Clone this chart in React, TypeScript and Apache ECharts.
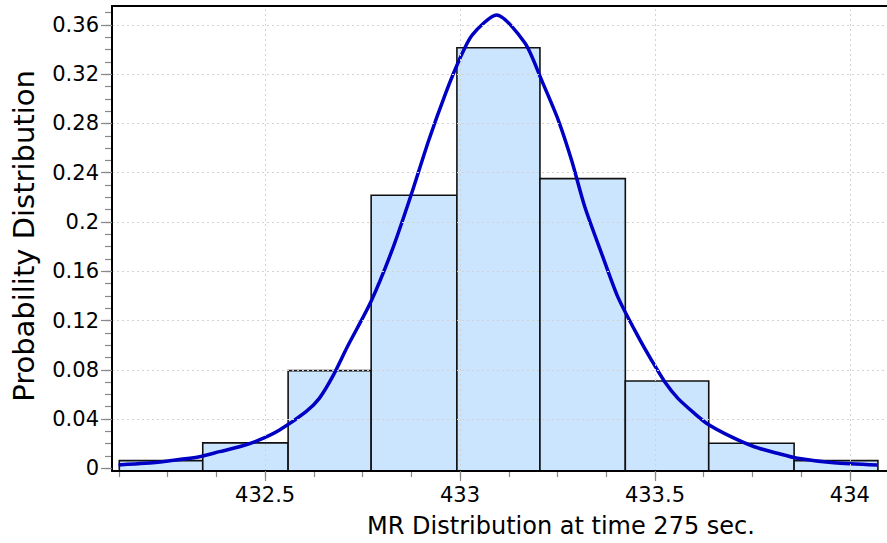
import React, { useEffect, useRef } from "react";
import * as echarts from "echarts";

// ---- data ----
const binEdges = [432.126, 432.34, 432.559, 432.772, 432.992, 433.205, 433.424, 433.638, 433.857, 434.072];
const binHeights = [0.0062, 0.0206, 0.0793, 0.2217, 0.3415, 0.2352, 0.0709, 0.0203, 0.0062];

const curveX = [
  432.124, 432.192, 432.256, 432.332, 432.383, 432.434, 432.485, 432.537, 432.605, 432.639,
  432.673, 432.711, 432.771, 432.826, 432.873, 432.92, 432.963, 432.998, 433.031, 433.094,
  433.167, 433.209, 433.252, 433.286, 433.32, 433.363, 433.405, 433.457, 433.491, 433.525,
  433.559, 433.601, 433.635, 433.695, 433.755, 433.814, 433.866, 433.959, 434.07,
];
const curveY = [
  0.0027, 0.004, 0.0062, 0.0094, 0.0135, 0.0175, 0.023, 0.0311, 0.046, 0.0568,
  0.0744, 0.0987, 0.135, 0.1773, 0.2205, 0.2666, 0.3045, 0.3316, 0.3518, 0.3681,
  0.3451, 0.3153, 0.2828, 0.2503, 0.2124, 0.1746, 0.139, 0.1069, 0.0879, 0.0703,
  0.0568, 0.0447, 0.036, 0.0257, 0.0175, 0.0122, 0.0081, 0.0045, 0.0027,
];

const xTickLabels = [432.5, 433, 433.5, 434];
const xMinorTicks = [432.125, 432.25, 432.375, 432.5, 432.625, 432.75, 432.875, 433, 433.125, 433.25, 433.375, 433.5, 433.625, 433.75, 433.875, 434];
const yTickLabels = [0, 0.04, 0.08, 0.12, 0.16, 0.2, 0.24, 0.28, 0.32, 0.36];
const yMinorTicks = [
  0, 0.01, 0.02, 0.03, 0.04, 0.05, 0.06, 0.07, 0.08, 0.09, 0.1, 0.11, 0.12, 0.13, 0.14, 0.15, 0.16, 0.17, 0.18,
  0.19, 0.2, 0.21, 0.22, 0.23, 0.24, 0.25, 0.26, 0.27, 0.28, 0.29, 0.3, 0.31, 0.32, 0.33, 0.34, 0.35, 0.36, 0.37,
];

const X_MIN = 432.1072;
const X_MAX = 434.0953;
const Y_MIN = -0.0022;
const Y_MAX = 0.3754;

const xTitle = "MR Distribution at time 275 sec.";
const yTitle = "Probability Distribution";

const FONT = "'DejaVu Sans', 'Liberation Sans', Arial, sans-serif";

export default function App() {
  const ref = useRef<HTMLDivElement>(null);

  useEffect(() => {
    if (!ref.current) return;
    const chart = echarts.init(ref.current, undefined, { renderer: "svg" });

    const bins = binHeights.map((h, i) => [binEdges[i], binEdges[i + 1], h]);
    const curve = curveX.map((x, i) => [x, curveY[i]]);

    const hidden = { show: false };
    const gridLines = [
      ...xTickLabels.map((v) => ({ xAxis: v })),
      ...yTickLabels.filter((v) => v > 0).map((v) => ({ yAxis: v })),
    ];

    chart.setOption({
      animation: false,
      grid: { left: 112, right: -3, top: 6, bottom: 72 },
      xAxis: [
        {
          type: "value",
          min: X_MIN,
          max: X_MAX,
          position: "bottom",
          z: 5,
          axisLine: { show: true, onZero: false, lineStyle: { color: "#000", width: 2 } },
          axisTick: { show: true, length: 10, customValues: xTickLabels, lineStyle: { color: "#888", width: 1.2 } },
          minorTick: hidden,
          axisLabel: {
            show: true,
            customValues: xTickLabels,
            margin: 13,
            color: "#000",
            fontSize: 21,
            fontFamily: FONT,
          },
          splitLine: hidden,
        },
        {
          type: "value",
          min: X_MIN,
          max: X_MAX,
          position: "bottom",
          z: 4,
          axisLine: { show: false, onZero: false },
          axisTick: { show: true, length: 6, customValues: xMinorTicks, lineStyle: { color: "#888", width: 1.2 } },
          axisLabel: hidden,
          splitLine: hidden,
        },
        {
          type: "value",
          min: X_MIN,
          max: X_MAX,
          position: "top",
          z: 5,
          axisLine: { show: true, onZero: false, lineStyle: { color: "#000", width: 2 } },
          axisTick: hidden,
          axisLabel: hidden,
          splitLine: hidden,
        },
      ],
      yAxis: [
        {
          type: "value",
          min: Y_MIN,
          max: Y_MAX,
          position: "left",
          z: 5,
          axisLine: { show: true, onZero: false, lineStyle: { color: "#000", width: 2 } },
          axisTick: { show: true, length: 11, customValues: yTickLabels, lineStyle: { color: "#888", width: 1.2 } },
          axisLabel: {
            show: true,
            customValues: yTickLabels,
            margin: 13,
            color: "#000",
            fontSize: 21,
            fontFamily: FONT,
          },
          splitLine: hidden,
        },
        {
          type: "value",
          min: Y_MIN,
          max: Y_MAX,
          position: "left",
          z: 4,
          axisLine: { show: false, onZero: false },
          axisTick: { show: true, length: 7, customValues: yMinorTicks, lineStyle: { color: "#888", width: 1.2 } },
          axisLabel: hidden,
          splitLine: hidden,
        },
      ],
      series: [
        {
          type: "line",
          name: "Grid",
          xAxisIndex: 0,
          yAxisIndex: 0,
          data: [],
          z: 1,
          silent: true,
          markLine: {
            silent: true,
            symbol: "none",
            label: { show: false },
            emphasis: { disabled: true },
            lineStyle: { color: "#d2d2d2", type: [2, 3], width: 1 },
            data: gridLines,
          },
        },
        {
          type: "custom",
          name: "Histogram",
          xAxisIndex: 0,
          yAxisIndex: 0,
          data: bins,
          z: 2,
          renderItem: (params: any, api: any) => {
            const p0 = api.coord([api.value(0), Y_MIN]);
            const p1 = api.coord([api.value(1), api.value(2)]);
            return {
              type: "rect",
              shape: { x: p0[0], y: p1[1], width: p1[0] - p0[0], height: p0[1] - p1[1] },
              style: { fill: "#CCE5FF", stroke: "#111", lineWidth: 1.6 },
            };
          },
        },
        {
          type: "line",
          name: "Fit",
          xAxisIndex: 0,
          yAxisIndex: 0,
          data: curve,
          smooth: 0.25,
          showSymbol: false,
          z: 3,
          lineStyle: { color: "#0000C4", width: 3.5 },
        },
      ],
      graphic: [
        {
          type: "text",
          x: 561,
          y: 526,
          style: {
            text: xTitle,
            fill: "#000",
            font: `24px ${FONT}`,
            align: "center",
            verticalAlign: "middle",
          },
        },
        {
          type: "text",
          x: 24,
          y: 236,
          rotation: Math.PI / 2,
          style: {
            text: yTitle,
            fill: "#000",
            font: `29px ${FONT}`,
            align: "center",
            verticalAlign: "middle",
          },
        },
      ],
    });

    return () => chart.dispose();
  }, []);

  return (
    <div
      ref={ref}
      style={{ position: "absolute", left: 0, top: 0, width: 887, height: 543, background: "#fff" }}
    />
  );
}
